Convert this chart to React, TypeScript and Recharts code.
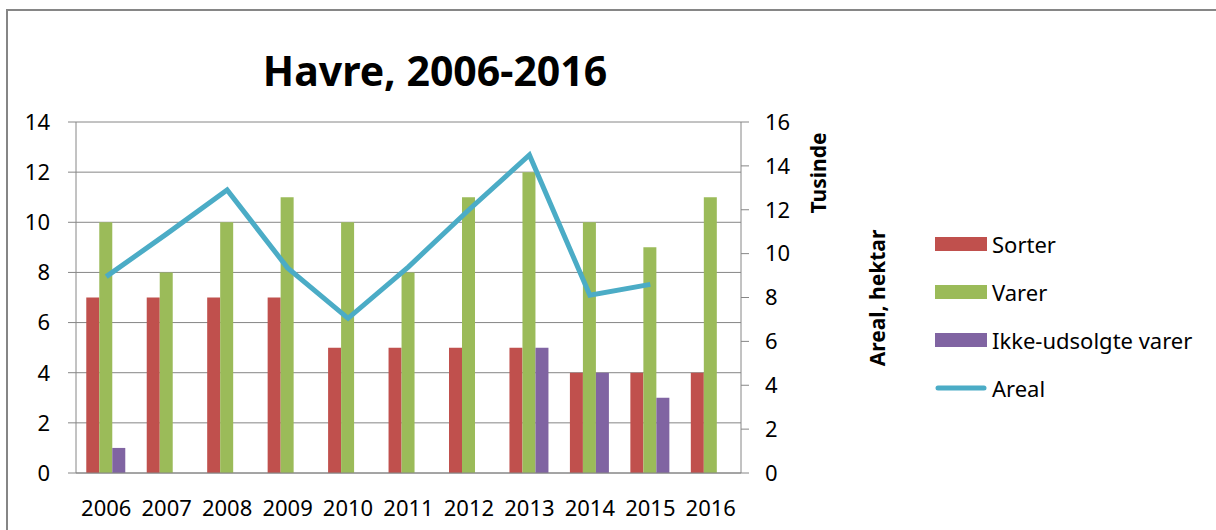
import {
  ComposedChart,
  Bar,
  Line,
  XAxis,
  YAxis,
  CartesianGrid,
  Legend,
} from 'recharts'

const years = ['2006', '2007', '2008', '2009', '2010', '2011', '2012', '2013', '2014', '2015', '2016']
const sorter = [7, 7, 7, 7, 5, 5, 5, 5, 4, 4, 4]
const varer = [10, 8, 10, 11, 10, 8, 11, 12, 10, 9, 11]
const ikkeUdsolgte = [1, null, null, null, null, null, null, 5, 4, 3, null]
// areal in thousand hectares
const areal = [8.95, 10.9, 12.9, 9.35, 7.05, 9.4, 12.0, 14.5, 8.1, 8.6, null]

const leftTicks = [0, 2, 4, 6, 8, 10, 12, 14]
const rightTicks = [0, 2, 4, 6, 8, 10, 12, 14, 16]
const edgeTicks = [0, 1, 2, 3, 4, 5, 6, 7, 8, 9, 10, 11]

const series = [
  { key: 'sorter', name: 'Sorter', color: '#C0504D', type: 'rect' },
  { key: 'varer', name: 'Varer', color: '#9BBB59', type: 'rect' },
  { key: 'ikke', name: 'Ikke-udsolgte varer', color: '#8064A2', type: 'rect' },
  { key: 'areal', name: 'Areal', color: '#4BACC6', type: 'line' },
]

const data = years.map((year, i) => ({
  year,
  sorter: sorter[i],
  varer: varer[i],
  ikke: ikkeUdsolgte[i],
  areal: areal[i],
}))

const FONT = '"Noto Sans", "Open Sans", sans-serif'
const GRID = '#868686'

function LegendBox() {
  return (
    <div style={{ fontFamily: FONT }}>
      {series.map((s) => (
        <div key={s.key} style={{ display: 'flex', alignItems: 'center', height: 48 }}>
          <svg width={52} height={16}>
            {s.type === 'line' ? (
              <line x1={3} y1={8} x2={49} y2={8} stroke={s.color} strokeWidth={5} strokeLinecap="round" />
            ) : (
              <rect x={0} y={1} width={52} height={14} fill={s.color} />
            )}
          </svg>
          <span style={{ marginLeft: 5, fontSize: 22, color: '#000' }}>{s.name}</span>
        </div>
      ))}
    </div>
  )
}

function AxisTitles(props: any) {
  const vb = props.viewBox || { x: 741, y: 122 }
  const x1 = vb.x + 77
  const y1 = vb.y + 51
  const x2 = vb.x + 136
  const y2 = vb.y + 176
  const style = { fontFamily: FONT, fontSize: 21, fontWeight: 700, fill: '#000' }
  return (
    <g>
      <text x={x1} y={y1} transform={`rotate(-90, ${x1}, ${y1})`} textAnchor="middle" dominantBaseline="central" style={style}>
        Tusinde
      </text>
      <text x={x2} y={y2} transform={`rotate(-90, ${x2}, ${y2})`} textAnchor="middle" dominantBaseline="central" style={style}>
        Areal, hektar
      </text>
    </g>
  )
}

export default function App() {
  const tickStyle = { fontSize: 22, fill: '#000', fontFamily: FONT }
  return (
    <div style={{ position: 'absolute', left: 0, top: 0, width: 1216, height: 530, background: '#fff', overflow: 'hidden' }}>
      <div
        style={{
          position: 'absolute',
          left: 6,
          top: 9,
          width: 1220,
          height: 540,
          borderTop: `2px solid ${GRID}`,
          borderLeft: `2px solid ${GRID}`,
        }}
      />
      <div
        style={{
          position: 'absolute',
          left: 235,
          width: 400,
          top: 50,
          textAlign: 'center',
          fontFamily: FONT,
          fontWeight: 700,
          fontSize: 41,
          lineHeight: '41px',
          color: '#000',
        }}
      >
        Havre, 2006-2016
      </div>
      <ComposedChart
        width={1216}
        height={530}
        data={data}
        margin={{ top: 122, right: 145, bottom: 0, left: 0 }}
        barCategoryGap="17%"
        barGap={0}
      >
        <CartesianGrid vertical={false} stroke={GRID} yAxisId="left" />
        <XAxis
          xAxisId="edges"
          type="number"
          domain={[0, 11]}
          ticks={edgeTicks}
          allowDataOverflow
          tick={false}
          tickLine={{ stroke: GRID }}
          tickSize={8}
          axisLine={false}
          height={0}
        />
        <XAxis
          dataKey="year"
          xAxisId="main"
          tick={tickStyle}
          tickLine={false}
          tickSize={0}
          tickMargin={27}
          axisLine={{ stroke: GRID }}
          height={57}
          interval={0}
        />
        <YAxis
          yAxisId="left"
          domain={[0, 14]}
          ticks={leftTicks}
          width={76}
          tick={tickStyle}
          tickSize={8}
          tickMargin={18}
          tickLine={{ stroke: GRID }}
          axisLine={{ stroke: GRID }}
        />
        <YAxis
          yAxisId="right"
          orientation="right"
          domain={[0, 16]}
          ticks={rightTicks}
          width={60}
          tick={{ ...tickStyle, textAnchor: 'start' }}
          tickSize={8}
          tickMargin={16}
          tickLine={{ stroke: GRID }}
          axisLine={{ stroke: GRID }}
          label={<AxisTitles />}
        />
        <Legend
          layout="vertical"
          align="right"
          verticalAlign="middle"
          content={<LegendBox />}
          wrapperStyle={{ left: 935, top: 220, width: 270 }}
        />
        <Bar dataKey="sorter" name="Sorter" xAxisId="main" yAxisId="left" fill="#C0504D" isAnimationActive={false} />
        <Bar dataKey="varer" name="Varer" xAxisId="main" yAxisId="left" fill="#9BBB59" isAnimationActive={false} />
        <Bar dataKey="ikke" name="Ikke-udsolgte varer" xAxisId="main" yAxisId="left" fill="#8064A2" isAnimationActive={false} />
        <Line
          dataKey="areal"
          name="Areal"
          xAxisId="main"
          yAxisId="right"
          type="linear"
          stroke="#4BACC6"
          strokeWidth={5}
          dot={false}
          activeDot={false}
          connectNulls={false}
          isAnimationActive={false}
        />
      </ComposedChart>
    </div>
  )
}
